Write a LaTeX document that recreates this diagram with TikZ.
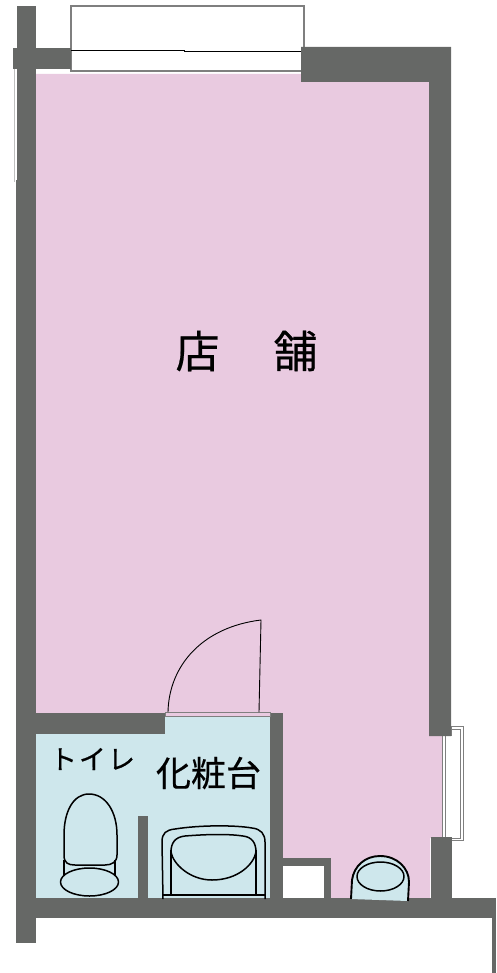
\documentclass[tikz,border=0pt]{standalone}
\usepackage{fontspec}
\newfontfamily\cjk[FakeBold=0.5]{Noto Sans CJK JP}
\definecolor{wallc}{HTML}{666866}
\definecolor{pinkc}{HTML}{E9CAE0}
\definecolor{bluec}{HTML}{CEE7EC}
\definecolor{framec}{HTML}{7F7F7F}
\tikzset{
  wall/.style={fill=wallc,draw=none},
  fixture/.style={draw=black,line width=1.5pt,line join=round},
  frameline/.style={draw=framec,line width=1.2pt},
  thinline/.style={draw=black,line width=1pt},
}
\begin{document}
\begin{tikzpicture}[x=1pt,y=-1pt]
\useasboundingbox (0,0) rectangle (496,973);
% floors
\fill[pinkc] (36,74) -- (301,74) -- (301,82) -- (430,82) -- (430,736) -- (442,736) -- (442,838) -- (430,838) -- (430,898) -- (270,898) -- (270,713) -- (36,713) -- cycle;
\fill[bluec] (36,734) -- (165,734) -- (165,716) -- (270,716) -- (270,898) -- (36,898) -- cycle;
% top window
\draw[frameline,fill=white] (71,6) rectangle (304,71);
\draw[thinline] (71,50.5) -- (185,50.5);
\draw[thinline] (184,51.5) -- (301,51.5);
% faint line at left
\draw[draw=black!25,line width=0.6pt] (14,69) -- (14,182);
% right window
\draw[frameline,line width=1pt,fill=white] (451,726) rectangle (463,840);
\draw[frameline,line width=1pt,fill=white] (451,729) rectangle (460.5,838);
\fill[white] (443,736) rectangle (452,838);
\draw[draw=framec,line width=1.2pt] (442.5,736) -- (442.5,838);
\draw[draw=framec,line width=1.2pt] (445.5,736) -- (445.5,838);
\draw[frameline,line width=1pt] (445.5,729) -- (460.5,729) (445.5,838) -- (460.5,838);
% walls
\fill[wall] (16.5,6) rectangle (36,180);
\fill[wall] (15.5,180) rectangle (36,943);
\fill[wall] (13,48) rectangle (71,69);
\fill[wall] (301,47) -- (451,47) -- (451,736) -- (429,736) -- (429,82) -- (301,82) -- cycle;
\fill[wall] (431,837) rectangle (452,900);
\fill[wall] (16,898) rectangle (496,918);
\fill[wall] (492,918) rectangle (496,973);
\fill[wall] (36,713) rectangle (165,734);
\fill[wall] (270,713) rectangle (283,898);
\fill[wall] (138,816) rectangle (148,898);
\fill[wall] (283,858) rectangle (331,898);
\fill[white] (283,866) rectangle (323.5,898);
% door
\draw[draw=framec,line width=0.9pt,fill=pinkc] (165,712.5) rectangle (270,716);
\draw[draw=black,line width=0.9pt,line join=round] (168,712) .. controls (169,665) and (203,627) .. (261,620) -- (259,712);
% toilet
\draw[fixture] (64,860) -- (64,875) (115,860) -- (115,875);
\draw[fixture] (89,794) .. controls (73,794) and (64,812) .. (64,835) -- (64,855) .. controls (64,863) and (68,865) .. (75,865) -- (105,865) .. controls (112,865) and (117,862) .. (117,855) -- (117,835) .. controls (117,812) and (106,794) .. (89,794) -- cycle;
\draw[fixture] (89.5,882) ellipse [x radius=29,y radius=14];
% vanity
\draw[fixture] (163,899) -- (162,842) .. controls (162,833) and (166,830) .. (175,829) .. controls (200,825) and (235,825) .. (252,828) .. controls (261,829) and (265,834) .. (265,842) -- (265,899);
\draw[fixture] (163,895) -- (265,895);
\draw[fixture] (171,850) -- (171,895) (256,850) -- (256,895);
\draw[fixture] (185,836) .. controls (210,834) and (230,834) .. (243,836) .. controls (252,837) and (256,843) .. (256,852) .. controls (254,864) and (238,880) .. (212,880) .. controls (190,880) and (173,864) .. (171,852) .. controls (171,843) and (175,837) .. (185,836) -- cycle;
% sink
\fill[bluec] (351,899) -- (352,880) .. controls (354,866) and (365,856) .. (380,856) .. controls (397,856) and (409,868) .. (409,882) -- (408,901) -- cycle;
\draw[fixture,line width=1.9pt] (351,899) -- (352,880) .. controls (354,866) and (365,856) .. (380,856) .. controls (397,856) and (409,868) .. (409,882) -- (408,901);
\draw[fixture] (380.5,876.5) ellipse [x radius=23.5,y radius=14.5];
% labels
\node[font=\cjk\fontsize{44}{44}\selectfont,inner sep=0pt] (shop) at (246.5,351) {店\hspace{54pt}舗};
\node[font=\cjk\fontsize{35}{35}\selectfont,inner sep=0pt] (vanity) at (208.5,773) {化粧台};
\node[font=\cjk\fontsize{27}{27}\selectfont,inner sep=0pt] (wc) at (92.5,759) {ト\hspace{2pt}イ\hspace{2pt}レ};
\end{tikzpicture}
\end{document}
